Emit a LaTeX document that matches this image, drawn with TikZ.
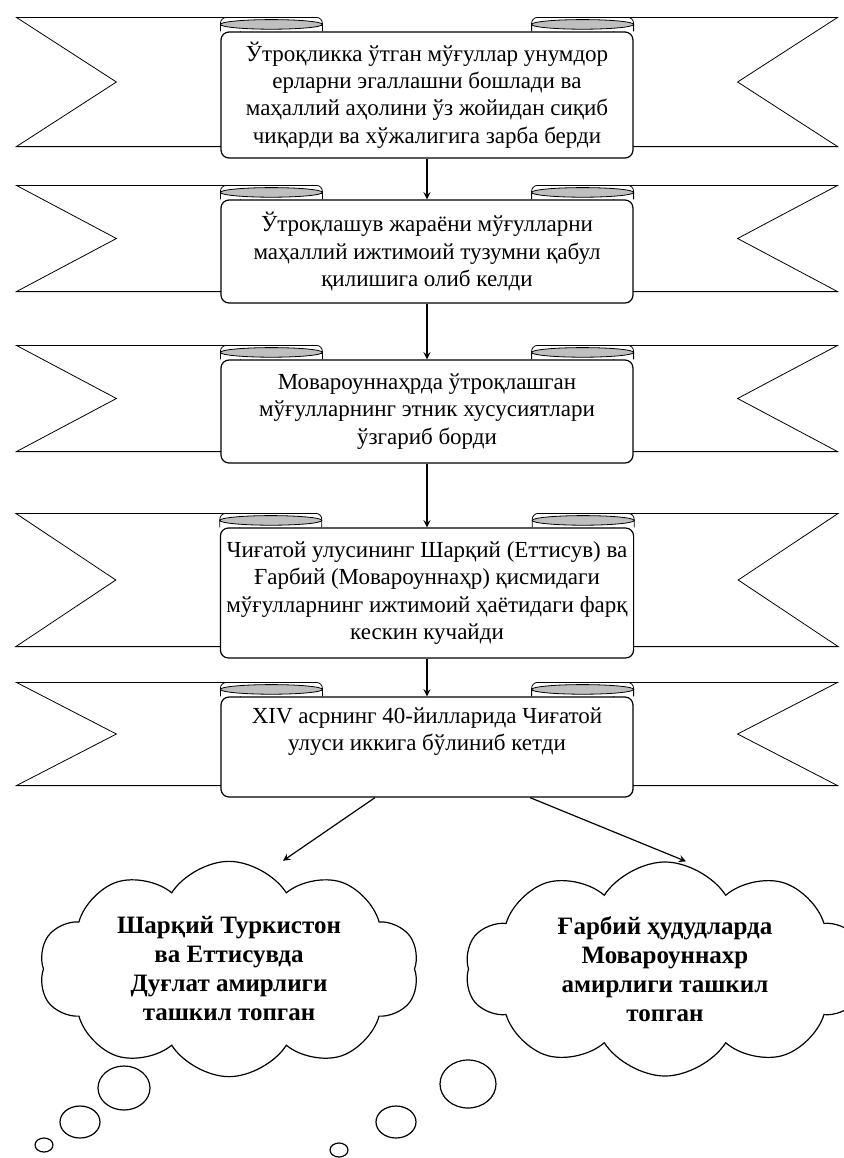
\documentclass[tikz,border=0pt]{standalone}
\usepackage{fontspec}
\setmainfont{Liberation Serif}
\usetikzlibrary{shapes.symbols,backgrounds}
\begin{document}
\begin{tikzpicture}[->,>=stealth,line width=0.6pt,
    main node/.style={fill=white,draw,rounded corners=4pt,align=center,minimum width=206pt,
      inner sep=3pt,font=\fontsize{11.5}{13.7}\selectfont},
    cloud node/.style={cloud,cloud puffs=10,cloud puff arc=115,cloud ignores aspect,draw,
      fill=white,align=center,font=\fontsize{12.5}{14.5}\selectfont\bfseries},
    tail/.style={-,draw,fill=white},
    curl/.style={-,draw,fill=white,rounded corners=3pt},
    fold/.style={-,draw,fill=gray!50},
    bubble/.style={-,draw}]
  \useasboundingbox (0,0) rectangle (422pt,-579pt);

  \node[main node,minimum height=63pt] (1) at (213.5pt,-47.5pt)
    {Ўтроқликка ўтган мўғуллар унумдор\\ерларни эгаллашни бошлади ва\\маҳаллий аҳолини ўз жойидан сиқиб\\чиқарди ва хўжалигига зарба берди};
  \node[main node,minimum height=51.5pt] (2) [below of=1,node distance=78.25pt]
    {Ўтроқлашув жараёни мўғулларни\\маҳаллий ижтимоий тузумни қабул\\қилишига олиб келди};
  \node[main node,minimum height=51.5pt] (3) [below of=2,node distance=80pt]
    {Мовароуннаҳрда ўтроқлашган\\мўғулларнинг этник хусусиятлари\\ўзгариб борди};
  \node[main node,minimum height=65pt] (4) [below of=3,node distance=90.75pt]
    {Чиғатой улусининг Шарқий (Еттисув) ва\\Ғарбий (Мовароуннаҳр) қисмидаги\\мўғулларнинг ижтимоий ҳаётидаги фарқ\\кескин кучайди};
  \node[main node,minimum height=50pt] (5) [below of=4,node distance=77pt]
    {XIV асрнинг 40-йилларида Чиғатой\\улуси иккига бўлиниб кетди\\[4pt]};

  \node[cloud node,minimum width=190pt,minimum height=104pt] (6)
    [below of=5,node distance=111pt,xshift=-99pt]
    {Шарқий Туркистон\\ва Еттисувда\\Дуғлат амирлиги\\ташкил топган};
  \node[cloud node,minimum width=200pt,minimum height=102pt] (7)
    [below of=5,node distance=111pt,xshift=119pt]
    {Ғарбий ҳудудларда\\Мовароуннахр\\амирлиги ташкил\\топган};

  \begin{scope}[on background layer]
    \foreach \n in {1,...,5} {
      \draw[tail] ([xshift=-102pt,yshift=7pt]\n.north west) -- ([xshift=10pt,yshift=7pt]\n.north west)
        -- ([xshift=10pt,yshift=6pt]\n.south west) -- ([xshift=-102pt,yshift=6pt]\n.south west)
        -- ([xshift=-52pt,yshift=6.5pt]\n.west) -- cycle;
      \draw[tail] ([xshift=102pt,yshift=7pt]\n.north east) -- ([xshift=-10pt,yshift=7pt]\n.north east)
        -- ([xshift=-10pt,yshift=6pt]\n.south east) -- ([xshift=102pt,yshift=6pt]\n.south east)
        -- ([xshift=52pt,yshift=6.5pt]\n.east) -- cycle;
      \draw[curl] (\n.north west) -- ([yshift=7pt]\n.north west)
        -- ([xshift=51pt,yshift=7pt]\n.north west) -- ([xshift=51pt]\n.north west);
      \draw[curl] (\n.north east) -- ([yshift=7pt]\n.north east)
        -- ([xshift=-51pt,yshift=7pt]\n.north east) -- ([xshift=-51pt]\n.north east);
      \draw[fold] ([xshift=25.5pt,yshift=3.5pt]\n.north west) ellipse [x radius=25.5pt,y radius=2.4pt];
      \draw[fold] ([xshift=-25.5pt,yshift=3.5pt]\n.north east) ellipse [x radius=25.5pt,y radius=2.4pt];
    }
  \end{scope}

  \path
    (1) edge (2)
    (2) edge (3)
    (3) edge (4)
    (4) edge (5);
  \draw ([xshift=-26pt]5.south) -- ([xshift=27pt]6.north);
  \draw ([xshift=51.5pt]5.south) -- ([xshift=10.5pt]7.north);

  \draw[bubble] (62pt,-544pt) ellipse [x radius=13pt,y radius=11pt];
  \draw[bubble] (40pt,-561pt) ellipse [x radius=10pt,y radius=8pt];
  \draw[bubble] (22pt,-572.5pt) ellipse [x radius=4.5pt,y radius=3.5pt];
  \draw[bubble] (234pt,-542pt) ellipse [x radius=14pt,y radius=12pt];
  \draw[bubble] (198pt,-561pt) ellipse [x radius=10pt,y radius=8pt];
  \draw[bubble] (169.5pt,-575pt) ellipse [x radius=4.5pt,y radius=3.5pt];
\end{tikzpicture}
\end{document}
